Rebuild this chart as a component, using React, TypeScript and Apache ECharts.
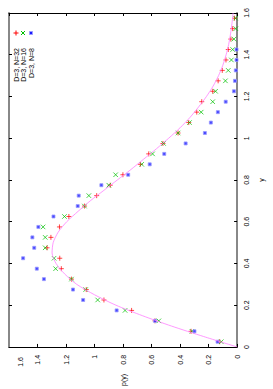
import React, { useEffect, useRef } from "react";
import * as echarts from "echarts";

// y bin centres (vertical axis "y")
const yBins = [
  0.025, 0.075, 0.125, 0.175, 0.225, 0.275, 0.325, 0.375, 0.425, 0.475, 0.525,
  0.575, 0.625, 0.675, 0.725, 0.775, 0.825, 0.875, 0.925, 0.975, 1.025, 1.075,
  1.125, 1.175, 1.225, 1.275, 1.325, 1.375, 1.425, 1.475, 1.525, 1.575,
];

// p(y) values
const pN32 = [
  0.122, 0.323, 0.576, 0.74, 0.934, 1.058, 1.162, 1.233, 1.244, 1.333, 1.306,
  1.246, 1.18, 1.07, 0.985, 0.89, 0.801, 0.679, 0.62, 0.52, 0.414, 0.339,
  0.283, 0.248, 0.171, 0.133, 0.104, 0.078, 0.062, 0.044, 0.031, 0.018,
];
const pN16 = [
  0.111, 0.317, 0.549, 0.786, 0.978, 1.062, 1.162, 1.273, 1.284, 1.346, 1.346,
  1.361, 1.211, 1.071, 1.04, 0.9, 0.852, 0.669, 0.593, 0.516, 0.414, 0.334,
  0.252, 0.171, 0.151, 0.082, 0.062, 0.04, 0.031, 0.022, 0.009, 0.011,
];
const pN8 = [
  0.137, 0.299, 0.576, 0.845, 1.08, 1.151, 1.355, 1.405, 1.501, 1.423, 1.436,
  1.394, 1.288, 1.118, 1.111, 0.952, 0.764, 0.613, 0.511, 0.361, 0.226, 0.184,
  0.135, 0.08, 0.022, 0.015, 0.009, 0.004, 0.004,
];

// theoretical curve
const curveY = [
  0, 0.05, 0.1, 0.15, 0.2, 0.25, 0.3, 0.35, 0.4, 0.45, 0.5, 0.55, 0.6, 0.65,
  0.7, 0.75, 0.8, 0.85, 0.9, 0.95, 1.0, 1.05, 1.1, 1.15, 1.2, 1.25, 1.3, 1.35,
  1.4, 1.45, 1.5, 1.55, 1.6,
];
const curveP = [
  0, 0.235, 0.46, 0.665, 0.85, 1.0, 1.125, 1.21, 1.27, 1.298, 1.29, 1.255, 1.195,
  1.115, 1.03, 0.935, 0.84, 0.745, 0.655, 0.565, 0.48, 0.4, 0.33, 0.27, 0.215,
  0.168, 0.13, 0.1, 0.077, 0.059, 0.046, 0.036, 0.028,
];

const seriesNames = ["D=3, N=32", "D=3, N=16", "D=3, N=8"];
const colors = ["#ff0000", "#00c000", "#1a1aff"];
const curveColor = "#ff7fff";
const FONT = "'Liberation Sans', Arial, sans-serif";

const PLUS = "path://M0,5L10,5M5,0L5,10";
const CROSS = "path://M0,0L10,10M10,0L0,10";

export default function App() {
  const ref = useRef<HTMLDivElement>(null);

  useEffect(() => {
    if (!ref.current) return;
    const chart = echarts.init(ref.current, undefined, { renderer: "svg" });

    const zip = (ps: number[]) => ps.map((p, i) => [p, yBins[i]]);

    const axisBase = {
      type: "value" as const,
      min: 0,
      max: 1.6,
      interval: 0.2,
      splitLine: { show: false },
    };

    const legendX = [16, 23, 31];
    const graphics: any[] = [];
    graphics.push(
      { type: "line", shape: { x1: 13.5, y1: 33, x2: 18.5, y2: 33 }, style: { stroke: colors[0], lineWidth: 1 } },
      { type: "line", shape: { x1: 16, y1: 30.5, x2: 16, y2: 35.5 }, style: { stroke: colors[0], lineWidth: 1 } },
      { type: "line", shape: { x1: 21, y1: 31, x2: 25, y2: 35 }, style: { stroke: colors[1], lineWidth: 1 } },
      { type: "line", shape: { x1: 25, y1: 31, x2: 21, y2: 35 }, style: { stroke: colors[1], lineWidth: 1 } },
      { type: "rect", shape: { x: 29.5, y: 31.5, width: 3, height: 3 }, style: { fill: colors[2], stroke: "#9a9aff", lineWidth: 1 } }
    );
    seriesNames.forEach((n, i) => {
      graphics.push({
        type: "text",
        x: legendX[i],
        y: 48,
        rotation: Math.PI / 2,
        style: {
          text: n,
          fontSize: 7,
          fontFamily: FONT,
          fill: "#000",
          textAlign: "right",
          textVerticalAlign: "middle",
        },
      });
    });
    graphics.push({
      type: "text",
      x: 20,
      y: 357,
      rotation: Math.PI / 2,
      style: {
        text: "1.6",
        fontSize: 7,
        fontFamily: FONT,
        fill: "#000",
        textAlign: "right",
        textVerticalAlign: "middle",
      },
    });

    chart.setOption({
      animation: false,
      backgroundColor: "#fff",
      grid: { left: 9, right: 23, top: 13, bottom: 40, containLabel: false },
      xAxis: [
        {
          ...axisBase,
          position: "bottom",
          inverse: true,
          name: "p(y)",
          nameLocation: "middle",
          nameGap: 27,
          nameRotate: 90,
          nameTextStyle: { fontSize: 7, fontFamily: FONT, color: "#000" },
          axisLine: { onZero: false, lineStyle: { color: "#000", width: 1 } },
          axisTick: { inside: true, length: 3, lineStyle: { color: "#000" } },
          axisLabel: {
            rotate: 90,
            margin: 8,
            fontSize: 7,
            fontFamily: FONT,
            color: "#000",
            showMaxLabel: false,
          },
        },
        {
          ...axisBase,
          position: "top",
          inverse: true,
          axisLine: { onZero: false, lineStyle: { color: "#000", width: 1 } },
          axisTick: { inside: true, length: 3, lineStyle: { color: "#000" } },
          axisLabel: { show: false },
        },
      ],
      yAxis: [
        {
          ...axisBase,
          position: "right",
          name: "y",
          nameLocation: "middle",
          nameGap: 18,
          nameRotate: 90,
          nameTextStyle: { fontSize: 7, fontFamily: FONT, color: "#000" },
          axisLine: { onZero: false, lineStyle: { color: "#888", width: 2 } },
          axisTick: { inside: true, length: 3, lineStyle: { color: "#000" } },
          axisLabel: {
            rotate: 90,
            margin: 6,
            fontSize: 7,
            fontFamily: FONT,
            color: "#000",
          },
        },
        {
          ...axisBase,
          position: "left",
          axisLine: { onZero: false, lineStyle: { color: "#888", width: 2 } },
          axisTick: { inside: true, length: 3, lineStyle: { color: "#000" } },
          axisLabel: { show: false },
        },
      ],
      series: [
        {
          type: "line",
          name: "curve",
          xAxisIndex: 0,
          yAxisIndex: 0,
          data: curveP.map((p, i) => [p, curveY[i]]),
          showSymbol: false,
          smooth: 0.25,
          lineStyle: { color: curveColor, width: 0.8 },
          silent: true,
        },
        {
          type: "scatter",
          name: seriesNames[0],
          xAxisIndex: 0,
          yAxisIndex: 0,
          data: zip(pN32),
          symbol: PLUS,
          symbolSize: 5,
          itemStyle: { color: "rgba(0,0,0,0)", borderColor: colors[0], borderWidth: 0.9 },
        },
        {
          type: "scatter",
          name: seriesNames[1],
          xAxisIndex: 0,
          yAxisIndex: 0,
          data: zip(pN16),
          symbol: CROSS,
          symbolSize: 4.5,
          itemStyle: { color: "rgba(0,0,0,0)", borderColor: colors[1], borderWidth: 0.9 },
        },
        {
          type: "scatter",
          name: seriesNames[2],
          xAxisIndex: 0,
          yAxisIndex: 0,
          data: zip(pN8),
          symbol: "rect",
          symbolSize: 3,
          itemStyle: { color: colors[2], borderColor: "#9a9aff", borderWidth: 1 },
        },
      ],
      graphic: graphics,
    });

    return () => chart.dispose();
  }, []);

  return (
    <div
      ref={ref}
      style={{ position: "fixed", left: 0, top: 0, width: 273, height: 389, background: "#fff" }}
    />
  );
}
